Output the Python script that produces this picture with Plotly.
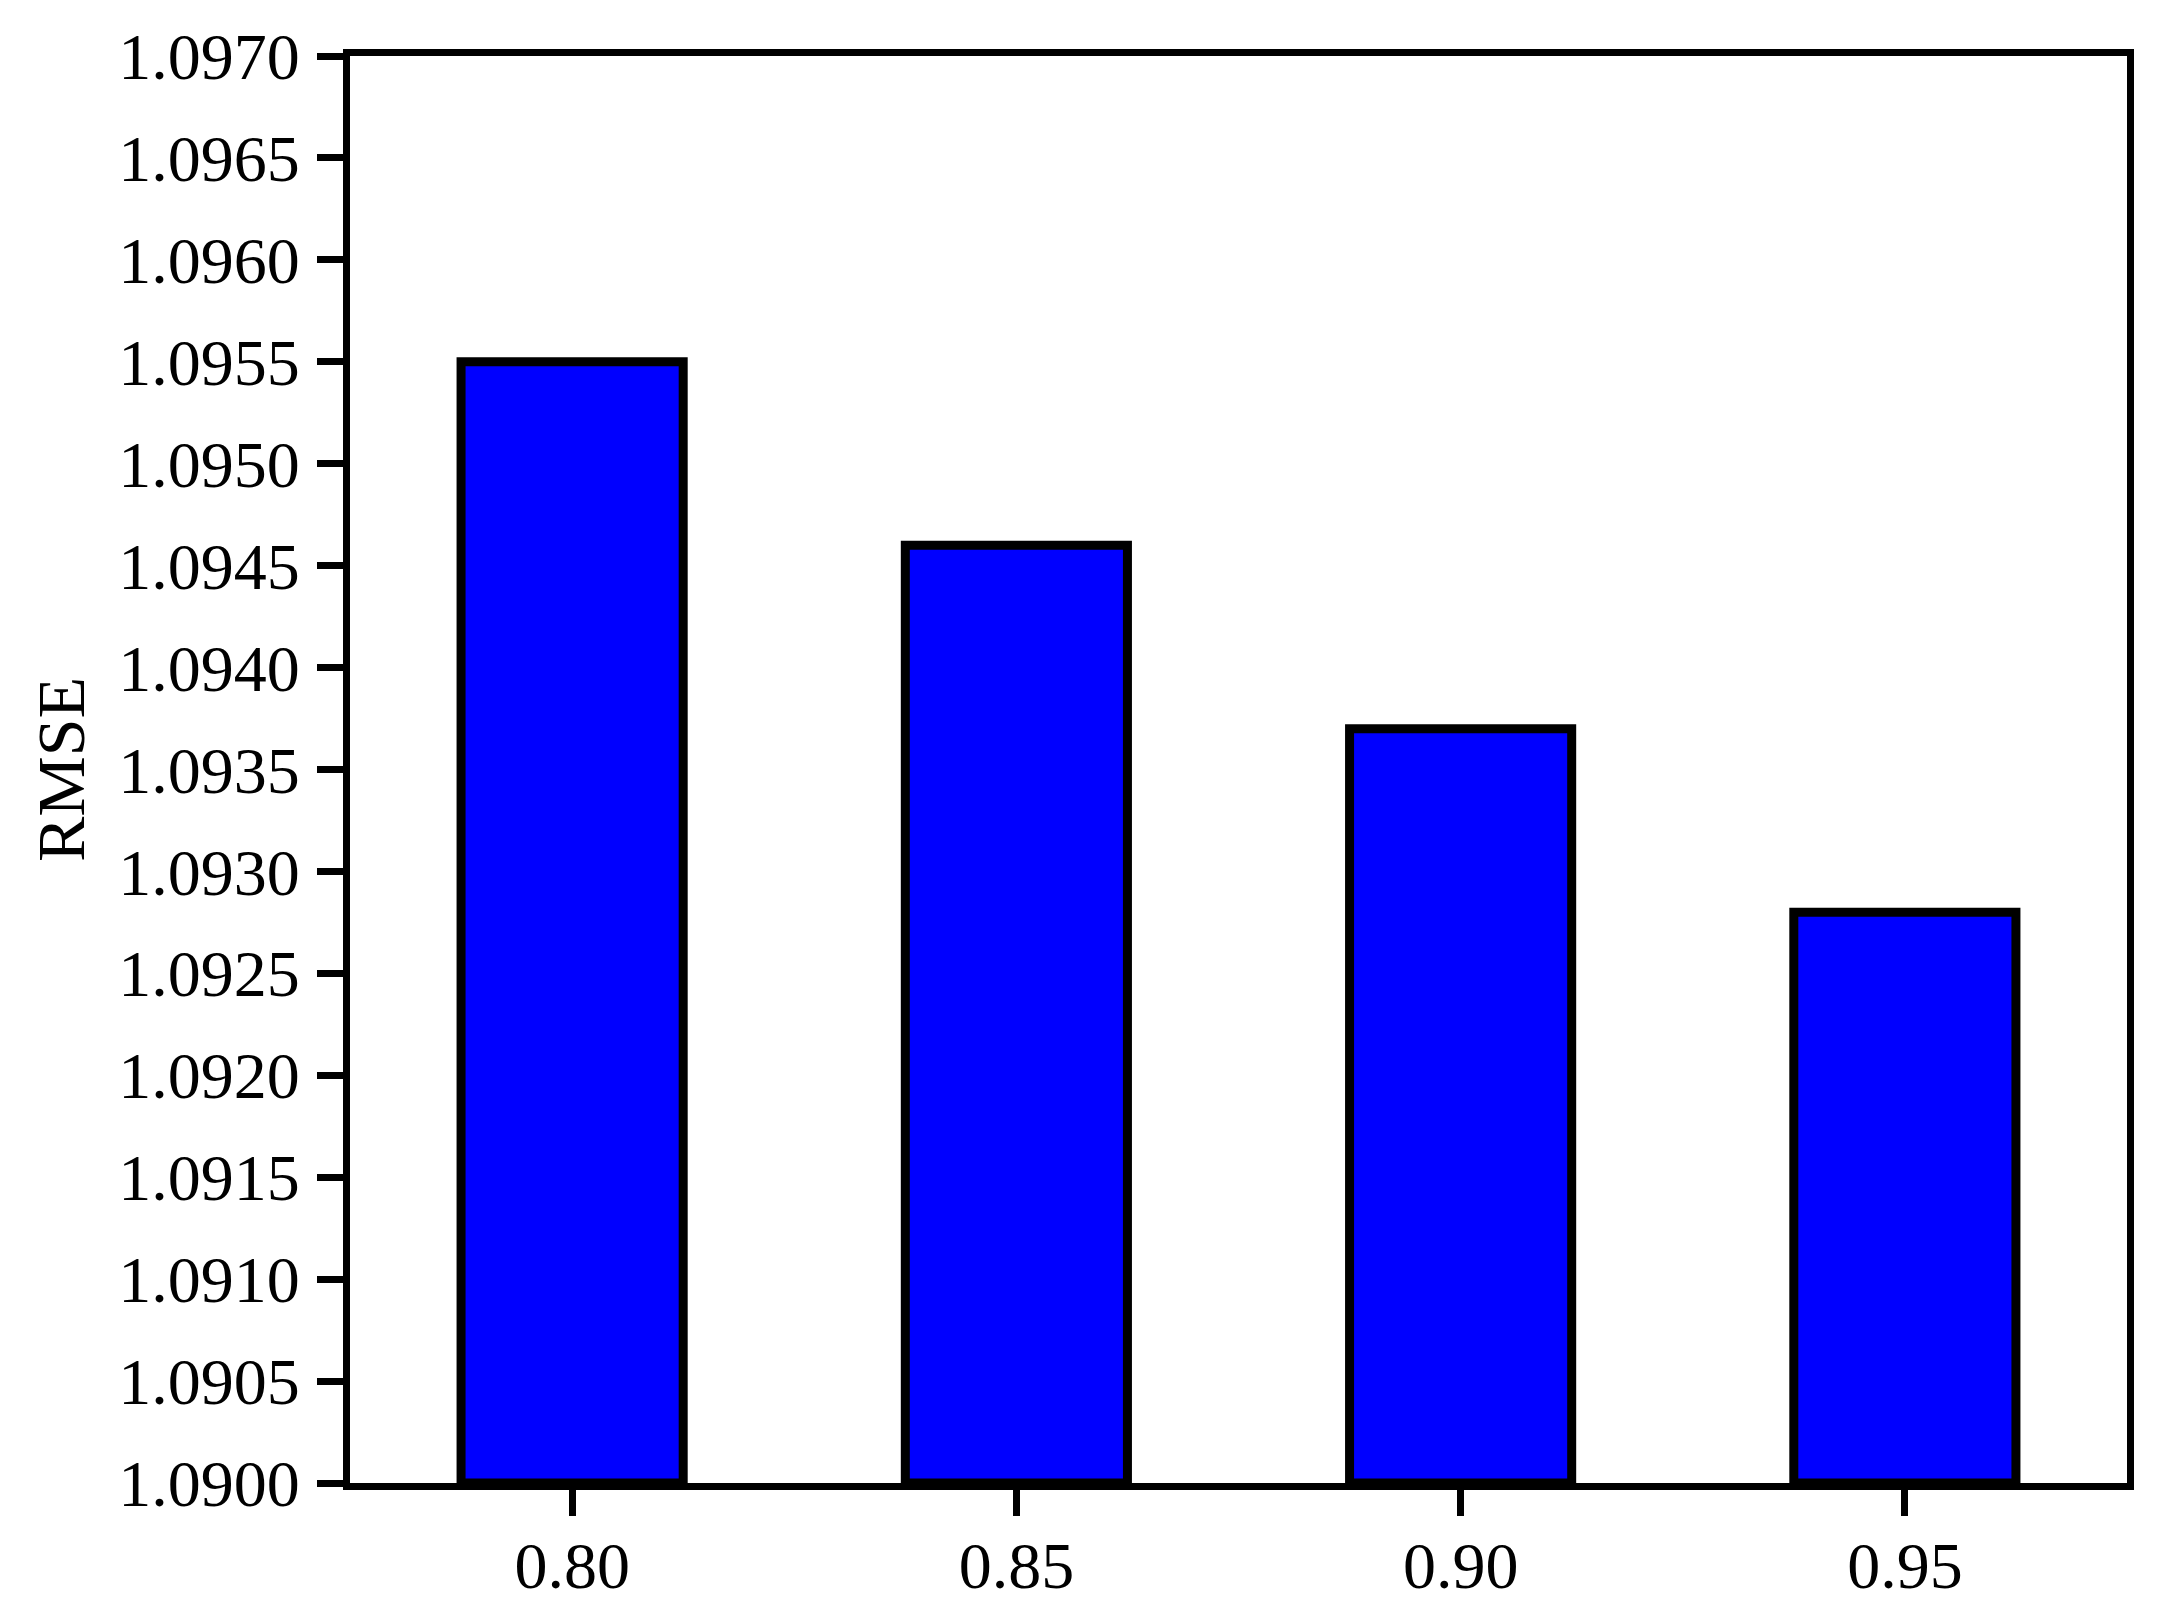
import plotly.graph_objects as go

categories = ["0.80", "0.85", "0.90", "0.95"]
rmse = [1.0955, 1.0946, 1.0937, 1.0928]
y_ticks = [1.0900 + 0.0005 * i for i in range(15)]
y_tick_labels = ["%.4f" % v for v in y_ticks]

FONT = "Liberation Serif"

fig = go.Figure()
fig.add_trace(go.Bar(
    x=categories,
    y=[v - 1.09 for v in rmse],
    base=1.09,
    width=0.5,
    marker=dict(color="#0000FF", line=dict(color="black", width=9)),
    showlegend=False,
))

fig.update_layout(
    width=2167,
    height=1607,
    margin=dict(l=342, r=48, t=40, b=132),
    paper_bgcolor="white",
    plot_bgcolor="white",
    font=dict(family=FONT, color="black", size=60),
)
fig.update_xaxes(
    type="category",
    range=[-0.5, 3.5],
    showline=True, linecolor="black", linewidth=7, mirror=True,
    ticks="outside", ticklen=26, tickwidth=7, tickcolor="black",
    tickfont=dict(family=FONT, size=66),
    ticklabelstandoff=-7,
    showgrid=False, zeroline=False,
)
fig.update_yaxes(
    range=[1.0900, 1.0970],
    tickvals=y_ticks, ticktext=y_tick_labels,
    showline=True, linecolor="black", linewidth=7, mirror=True,
    ticks="outside", ticklen=26, tickwidth=7, tickcolor="black",
    tickfont=dict(family=FONT, size=66),
    ticklabelstandoff=4,
    showgrid=False, zeroline=False,
    title=dict(text="RMSE", font=dict(family=FONT, size=68), standoff=14),
)

fig.write_html("out.html")
